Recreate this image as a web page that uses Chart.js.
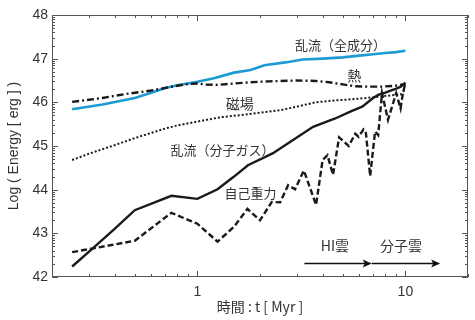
<!DOCTYPE html>
<html>
<head>
<meta charset="utf-8">
<script src="https://cdn.jsdelivr.net/npm/chart.js@4.4.1/dist/chart.umd.min.js"></script>
<style>
  html, body { margin: 0; padding: 0; background: #fff; }
</style>
</head>
<body>
<canvas id="energyChart" width="475" height="320"></canvas>
<script>
// time axis in Myr, energy as log10(erg)
const turbTotalT = [0.25, 0.35, 0.5, 0.6, 0.7, 0.8, 0.9, 1.0, 1.2, 1.5, 1.8, 2.1, 2.7, 3.2, 4.0, 5.0, 6.0, 7.0, 8.0, 9.0, 10.0];
const turbTotalE = [45.84, 45.95, 46.10, 46.22, 46.33, 46.39, 46.43, 46.47, 46.55, 46.68, 46.74, 46.85, 46.92, 46.98, 47.00, 47.03, 47.07, 47.10, 47.13, 47.15, 47.18];

const thermalT = [0.25, 0.35, 0.45, 0.6, 0.8, 0.9, 1.0, 1.1, 1.25, 1.5, 1.8, 2.2, 3.0, 3.7, 4.3, 5.0, 5.7, 6.5, 7.7, 9.0, 10.0];
const thermalE = [46.01, 46.10, 46.19, 46.27, 46.38, 46.42, 46.43, 46.41, 46.40, 46.43, 46.46, 46.48, 46.50, 46.49, 46.46, 46.41, 46.37, 46.36, 46.36, 46.38, 46.42];

const magneticT = [0.25, 0.3, 0.4, 0.5, 0.6, 0.7, 0.8, 1.0, 1.3, 1.7, 2.0, 2.5, 3.0, 3.7, 4.5, 5.5, 6.5, 7.5, 8.5, 9.5, 10.0];
const magneticE = [44.68, 44.82, 45.02, 45.18, 45.30, 45.40, 45.47, 45.56, 45.66, 45.72, 45.76, 45.82, 45.90, 46.00, 46.04, 46.07, 46.10, 46.13, 46.16, 46.18, 46.30];

const turbMolT = [0.25, 0.315, 0.4, 0.5, 0.75, 1.0, 1.25, 1.5, 1.75, 2.3, 2.8, 3.6, 4.6, 5.5, 6.2, 7.0, 7.4, 8.0, 8.9, 9.5, 10.0];
const turbMolE = [42.24, 42.66, 43.10, 43.53, 43.86, 43.79, 44.01, 44.30, 44.56, 44.83, 45.10, 45.44, 45.63, 45.80, 45.90, 46.10, 46.17, 46.22, 46.30, 46.36, 46.45];

const gravityT = [0.25, 0.32, 0.5, 0.75, 0.9, 1.0, 1.25, 1.5, 1.74, 2.0, 2.28, 2.5, 2.73, 2.95, 3.25, 3.72, 4.0, 4.22, 4.49, 4.8, 5.34, 5.74, 5.96, 6.29, 6.45, 6.77, 7.15, 7.4, 7.72, 8.25, 9.03, 9.48, 9.73, 10.0];
const gravityE = [42.57, 42.66, 42.83, 43.47, 43.31, 43.22, 42.81, 43.15, 43.56, 43.30, 43.72, 43.71, 44.10, 44.01, 44.44, 43.65, 44.68, 44.79, 44.34, 45.20, 45.00, 45.28, 45.21, 45.38, 45.33, 44.31, 45.33, 45.25, 46.21, 45.60, 46.21, 45.86, 46.21, 46.44];

const xMajorTicks = [1, 10];
const yMajorTicks = [42, 43, 44, 45, 46, 47, 48];

// text labels inside the plot, placed in data units (t, logE)
const labelNotes = [
  { text: "乱流（全成分）", t: 2.95, e: 47.31, size: 13 },
  { text: "熱", t: 5.25, e: 46.60, size: 14 },
  { text: "磁場", t: 1.37, e: 45.98, size: 14 },
  { text: "乱流（分子ガス）", t: 0.743, e: 44.91, size: 13 },
  { text: "自己重力", t: 1.35, e: 43.92, size: 13 },
  { text: "HI雲", t: 3.92, e: 42.71, size: 14 },
  { text: "分子雲", t: 7.54, e: 42.71, size: 14 }
];
// phase arrows: from, to (Myr) at logE level
const phaseArrows = [
  { from: 3.27, to: 6.89, e: 42.31 },
  { from: 6.89, to: 14.7, e: 42.31 }
];

function toPoints(ts, es) {
  return ts.map((t, i) => ({ x: t, y: es[i] }));
}

function lineSet(label, ts, es, color, width, dash) {
  return {
    label,
    data: toPoints(ts, es),
    borderColor: color,
    borderWidth: width,
    borderDash: dash,
    pointRadius: 0,
    tension: 0,
    fill: false
  };
}

const frameTicks = {
  id: "frameTicks",
  afterDraw(chart) {
    const { ctx, chartArea: a, scales } = chart;
    const xs = scales.x;
    const ys = scales.y;
    ctx.save();
    ctx.strokeStyle = "#555";
    ctx.lineWidth = 1;
    ctx.strokeRect(a.left + 0.5, a.top + 0.5, a.right - a.left - 1, a.bottom - a.top - 1);

    ctx.beginPath();
    // x ticks, log decades
    [0.1, 1, 10].forEach((d) => {
      for (let k = 1; k <= 9; k++) {
        const v = k * d;
        if (v < xs.min || v > xs.max) continue;
        const px = Math.round(xs.getPixelForValue(v)) + 0.5;
        const len = xMajorTicks.includes(Math.round(v * 10) / 10) ? 6 : 3;
        ctx.moveTo(px, a.bottom);
        ctx.lineTo(px, a.bottom - len);
        ctx.moveTo(px, a.top);
        ctx.lineTo(px, a.top + len);
      }
    });
    // y ticks, majors on integers and log-style minors inside each step
    yMajorTicks.forEach((n) => {
      for (let k = 1; k <= 9; k++) {
        const v = n + Math.log10(k);
        if (v > ys.max) continue;
        const py = Math.round(ys.getPixelForValue(v)) + 0.5;
        const len = k === 1 ? 6 : 3;
        ctx.moveTo(a.left, py);
        ctx.lineTo(a.left + len, py);
        ctx.moveTo(a.right, py);
        ctx.lineTo(a.right - len, py);
      }
    });
    ctx.stroke();

    // labels
    ctx.fillStyle = "#333";
    ctx.textBaseline = "middle";
    ctx.textAlign = "left";
    labelNotes.forEach((n) => {
      ctx.font = `${n.size}px "Noto Sans CJK JP", "Noto Sans", sans-serif`;
      ctx.fillText(n.text, xs.getPixelForValue(n.t), ys.getPixelForValue(n.e));
    });

    // arrows
    ctx.strokeStyle = "#111";
    ctx.fillStyle = "#111";
    ctx.lineWidth = 1.6;
    phaseArrows.forEach((ar) => {
      const x0 = xs.getPixelForValue(ar.from);
      const x1 = xs.getPixelForValue(ar.to);
      const py = ys.getPixelForValue(ar.e);
      ctx.beginPath();
      ctx.moveTo(x0, py);
      ctx.lineTo(x1 - 6, py);
      ctx.stroke();
      ctx.beginPath();
      ctx.moveTo(x1, py);
      ctx.lineTo(x1 - 9, py - 4);
      ctx.lineTo(x1 - 7, py);
      ctx.lineTo(x1 - 9, py + 4);
      ctx.closePath();
      ctx.fill();
    });
    ctx.restore();
  }
};

const ctx = document.getElementById("energyChart").getContext("2d");
new Chart(ctx, {
  type: "line",
  data: {
    datasets: [
      lineSet("熱", thermalT, thermalE, "#1a1a1a", 2.4, [7, 3, 2, 3]),
      lineSet("磁場", magneticT, magneticE, "#1a1a1a", 2, [2, 2]),
      lineSet("自己重力", gravityT, gravityE, "#1a1a1a", 2.4, [6, 3]),
      lineSet("乱流（分子ガス）", turbMolT, turbMolE, "#1a1a1a", 2.4, []),
      lineSet("乱流（全成分）", turbTotalT, turbTotalE, "#1c9ad2", 2.6, [])
    ]
  },
  options: {
    responsive: false,
    animation: false,
    layout: { padding: { top: 15, right: 2, left: 0, bottom: 0 } },
    plugins: {
      legend: { display: false },
      tooltip: { enabled: false }
    },
    scales: {
      x: {
        type: "logarithmic",
        min: 0.2,
        max: 20,
        grid: { display: false, drawTicks: false },
        border: { display: false },
        afterFit(scale) { scale.height = 43; },
        ticks: {
          autoSkip: false,
          maxRotation: 0,
          padding: 7,
          color: "#333",
          font: { family: "'Liberation Sans', Arial, sans-serif", size: 14 },
          callback: (v) => (xMajorTicks.includes(v) ? String(v) : "")
        },
        title: {
          display: true,
          text: "時間 : t [ Myr ]",
          color: "#333",
          padding: { top: 0, bottom: 5 },
          font: { family: "'Noto Sans CJK JP', sans-serif", size: 14 }
        }
      },
      y: {
        type: "linear",
        min: 42,
        max: 48,
        grid: { display: false, drawTicks: false },
        border: { display: false },
        afterFit(scale) { scale.width = 52; },
        ticks: {
          stepSize: 1,
          padding: 4,
          color: "#333",
          font: { family: "'Liberation Sans', Arial, sans-serif", size: 14 }
        },
        title: {
          display: true,
          text: "Log ( Energy [ erg ] )",
          color: "#333",
          padding: { top: 6, bottom: 0 },
          font: { family: "'Liberation Sans', Arial, sans-serif", size: 14 }
        }
      }
    }
  },
  plugins: [frameTicks]
});
</script>
</body>
</html>
